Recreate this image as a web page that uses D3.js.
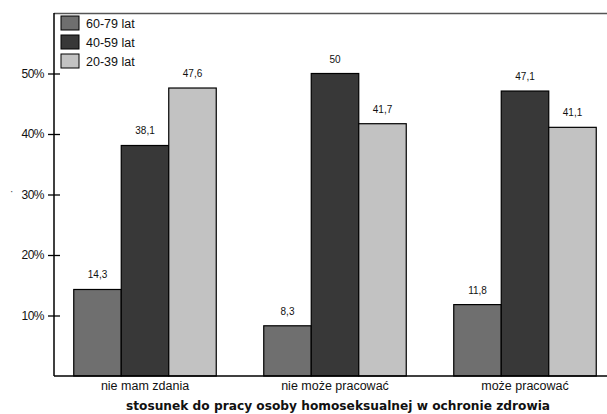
<!DOCTYPE html>
<html><head><meta charset="utf-8">
<script src="https://cdn.jsdelivr.net/npm/d3@7"></script>
<style>body{margin:0;background:#fff}svg{display:block}text{font-family:"Liberation Sans",Arial,sans-serif}</style>
</head><body><svg id="c" width="607" height="414"></svg>
<script>
const categories = ["nie mam zdania", "nie może pracować", "może pracować"];
const seriesNames = ["60-79 lat", "40-59 lat", "20-39 lat"];
const v6079 = [14.3, 8.3, 11.8];
const v4059 = [38.1, 50, 47.1];
const v2039 = [47.6, 41.7, 41.1];
const yTicks = [10, 20, 30, 40, 50];
const colors = ["#6f6f6f", "#383838", "#c2c2c2"];
const xTitle = "stosunek do pracy osoby homoseksualnej w ochronie zdrowia";

const series = [v6079, v4059, v2039];
const svg = d3.select("#c");
const L = 54, T = 13, B = 376, R = 607;
const x = d3.scaleBand().domain(categories).range([50, 620]).paddingInner(0.25).paddingOuter(0.125);
const xs = d3.scaleBand().domain(seriesNames).range([0, x.bandwidth()]);
const y = d3.scaleLinear().domain([0, 60]).range([B, T]);

// frame top
svg.append("line").attr("x1", L).attr("x2", R).attr("y1", T + 0.5).attr("y2", T + 0.5).attr("stroke", "#555").attr("stroke-width", 1.3);

// bars
const g = svg.append("g");
categories.forEach((c, i) => {
  seriesNames.forEach((s, j) => {
    const val = series[j][i];
    const bx = x(c) + xs(s);
    g.append("rect").attr("x", bx).attr("y", y(val)).attr("width", xs.bandwidth()).attr("height", B - y(val))
      .attr("fill", colors[j]).attr("stroke", "#000").attr("stroke-width", 1.2);
    g.append("text").attr("x", bx + xs.bandwidth() / 2).attr("y", y(val) - 11).attr("text-anchor", "middle")
      .attr("font-size", 10).attr("fill", "#111").text(String(val).replace(".", ","));
  });
});

// y axis
const ya = d3.axisLeft(y).tickValues(yTicks).tickSize(6).tickFormat(d => d + "%");
const yg = svg.append("g").attr("transform", `translate(${L},0)`).call(ya);
yg.select(".domain").remove();
yg.selectAll(".tick line").attr("x1", -6).attr("x2", 6).attr("stroke", "#000").attr("stroke-width", 1.3);
yg.selectAll(".tick text").attr("x", -10).attr("font-size", 12).attr("fill", "#111").attr("letter-spacing", "-0.5");
svg.append("line").attr("x1", L).attr("x2", L).attr("y1", T).attr("y2", B).attr("stroke", "#000").attr("stroke-width", 1.5);

// x axis
const xa = d3.axisBottom(x).tickSize(0).tickPadding(5);
const xg = svg.append("g").attr("transform", `translate(0,${B})`).call(xa);
xg.select(".domain").remove();
xg.selectAll(".tick text").attr("font-size", 12.5).attr("fill", "#111");
svg.append("line").attr("x1", L).attr("x2", R).attr("y1", B).attr("y2", B).attr("stroke", "#000").attr("stroke-width", 1.5);

svg.append("text").attr("x", 338).attr("y", 410).attr("text-anchor", "middle").attr("font-weight", "bold")
  .style("font-family", "'DejaVu Sans', sans-serif").attr("font-size", 12.2).attr("fill", "#111").text(xTitle);
svg.append("text").attr("x", 10).attr("y", 195).attr("font-size", 10).attr("fill", "#444").text("·");

// legend
seriesNames.forEach((s, j) => {
  const ly = 16 + j * 19;
  svg.append("rect").attr("x", 61).attr("y", ly).attr("width", 18).attr("height", 14).attr("fill", colors[j]).attr("stroke", "#000").attr("stroke-width", 1);
  svg.append("text").attr("x", 86).attr("y", ly + 11.5).attr("font-size", 12.5).attr("fill", "#111").text(s);
});
</script></body></html>
